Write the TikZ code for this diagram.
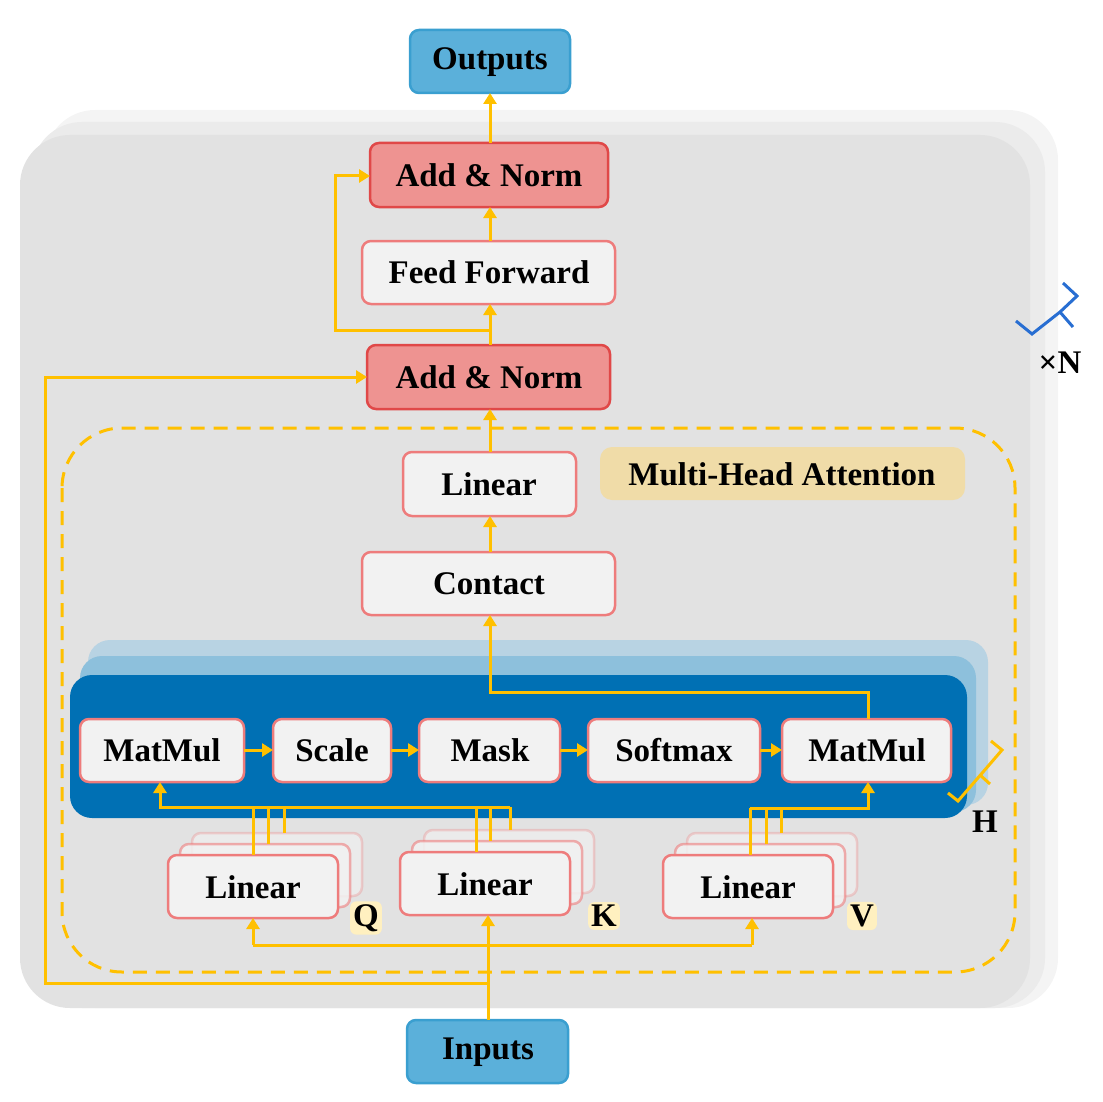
\documentclass[tikz,border=0pt]{standalone}
\usepackage{fontspec}
\setmainfont{Liberation Serif}
\usetikzlibrary{arrows.meta}
\definecolor{org}{HTML}{FFC000}
\definecolor{bxfill}{HTML}{F2F2F2}
\definecolor{bxline}{HTML}{EE7C7C}
\definecolor{anfill}{HTML}{EE9391}
\definecolor{anline}{HTML}{E04848}
\definecolor{iofill}{HTML}{5BB0DA}
\definecolor{ioline}{HTML}{3A9FD0}
\definecolor{mhafill}{HTML}{F0DCA8}
\definecolor{qkvfill}{HTML}{FFF0C0}
\definecolor{blA}{HTML}{B8D3E3}
\definecolor{blB}{HTML}{8DC0DC}
\definecolor{blC}{HTML}{0070B4}
\definecolor{brc}{HTML}{286ED2}
\definecolor{bgA}{HTML}{F4F4F4}
\definecolor{bgB}{HTML}{EBEBEB}
\definecolor{bgC}{HTML}{E2E2E2}
\begin{document}
\begin{tikzpicture}[x=1pt,y=-1pt,
  txt/.style={font=\fontsize{33}{36}\selectfont\bfseries},
  box/.style={draw=bxline,fill=bxfill,line width=2.5pt,rounded corners=9pt},
  an/.style={draw=anline,fill=anfill,line width=2.5pt,rounded corners=9pt},
  io/.style={draw=ioline,fill=iofill,line width=2.5pt,rounded corners=9pt},
  ar/.style={draw=org,line width=3pt,-{Triangle[length=11pt,width=13pt]}},
  ln/.style={draw=org,line width=3pt},
  lab/.style={fill=qkvfill,rounded corners=6pt,inner sep=3pt,font=\fontsize{33}{36}\selectfont\bfseries}]
\useasboundingbox (0,0) rectangle (1102,1102);
% background layers
\fill[bgA,rounded corners=50pt] (45,110) rectangle (1058,1008);
\fill[bgB,rounded corners=50pt] (32,122) rectangle (1045,1008);
\fill[bgC,rounded corners=50pt] (20,135) rectangle (1030,1008);
% dashed MHA box
\draw[org,line width=3pt,dash pattern=on 14pt off 9pt,rounded corners=60pt] (62,428) rectangle (1015,972);
\fill[rounded corners=12pt,mhafill] (600,447) rectangle (965,500);
\node[txt] (mha) at (782,474) {Multi-Head Attention};
% blue layers
\fill[rounded corners=22pt,blA] (88,640) rectangle (988,805);
\fill[rounded corners=22pt,blB] (80,656) rectangle (976,812);
\fill[rounded corners=22pt,blC] (70,675) rectangle (967,818);
% nodes
\path[io] (410,30) rectangle (570,93); \node[txt] (out) at (490,62) {Outputs};
\path[io] (407,1020) rectangle (568,1083); \node[txt] (inp) at (488,1052) {Inputs};
\path[an] (370,143) rectangle (608,207); \node[txt] (an1) at (489,175) {Add \& Norm};
\path[box] (362,241) rectangle (615,304); \node[txt] (ff) at (489,272) {Feed Forward};
\path[an] (367,345) rectangle (610,409); \node[txt] (an2) at (489,377) {Add \& Norm};
\path[box] (403,452) rectangle (576,516); \node[txt] (lin) at (489,484) {Linear};
\path[box] (362,552) rectangle (615,615); \node[txt] (con) at (489,584) {Contact};
\path[box] (80,719) rectangle (244,782); \node[txt] (mm1) at (162,750) {MatMul};
\path[box] (273,719) rectangle (391,782); \node[txt] (sc) at (332,750) {Scale};
\path[box] (419,719) rectangle (560,782); \node[txt] (mk) at (490,750) {Mask};
\path[box] (588,719) rectangle (760,782); \node[txt] (sm) at (674,750) {Softmax};
\path[box] (782,719) rectangle (951,782); \node[txt] (mm2) at (867,750) {MatMul};
% stacked linears
\foreach \x/\y/\n/\l/\lx/\ly in {168/855/q/Q/366/918, 400/852/k/K/604/916, 663/855/v/V/862/916}{
  \path[box,draw opacity=0.3,fill opacity=0.6] (\x+24,\y-22) rectangle (\x+194,\y+41);
  \path[box,draw opacity=0.6,fill opacity=0.85] (\x+12,\y-11) rectangle (\x+182,\y+52);
  \path[box] (\x,\y) rectangle (\x+170,\y+63);
  \node[txt] (\n) at (\x+85,\y+32) {Linear};
  \node[lab] (\n lab) at (\lx,\ly) {\l};
}
% row arrows
\draw[ar] (244,750) -- (273,750);
\draw[ar] (391,750) -- (419,750);
\draw[ar] (560,750) -- (588,750);
\draw[ar] (760,750) -- (782,750);
% Q K V lines
\foreach \x/\t in {253/855,268/844,284/833,476/852,490/841,510/830}{\draw[ln] (\x,\t) -- (\x,807);}
\draw[ar] (510,807) -- (160,807) -- (160,782);
\foreach \x/\t in {750/855,766/844,781/833}{\draw[ln] (\x,\t) -- (\x,808);}
\draw[ar] (750,808) -- (868,808) -- (868,782);
% inputs
\draw[ar] (488,1020) -- (488,915);
\draw[ln] (253,945) -- (752,945);
\draw[ar] (253,945) -- (253,918);
\draw[ar] (752,945) -- (752,918);
\draw[ar] (488,983) -- (45,983) -- (45,377) -- (367,377);
% upper chain
\draw[ar] (868,719) -- (868,692) -- (490,692) -- (490,615);
\draw[ar] (490,552) -- (490,516);
\draw[ar] (490,452) -- (490,409);
\draw[ar] (490,345) -- (490,304);
\draw[ar] (490,330) -- (335,330) -- (335,176) -- (370,176);
\draw[ar] (490,241) -- (490,207);
\draw[ar] (490,143) -- (490,93);
% braces
\draw[org,line width=3pt] (948,793) -- (958,801) -- (1002,750) -- (991,741);
\draw[org,line width=3pt] (980,775) -- (990,784);
\node[txt] (H) at (985,822) {H};
\draw[brc,line width=3pt] (1016,321) -- (1032,334) -- (1060,312) -- (1077,296) -- (1063,283);
\draw[brc,line width=3pt] (1060,312) -- (1073,327);
\node[txt] (N) at (1060,363) {×N};
\end{tikzpicture}
\end{document}
